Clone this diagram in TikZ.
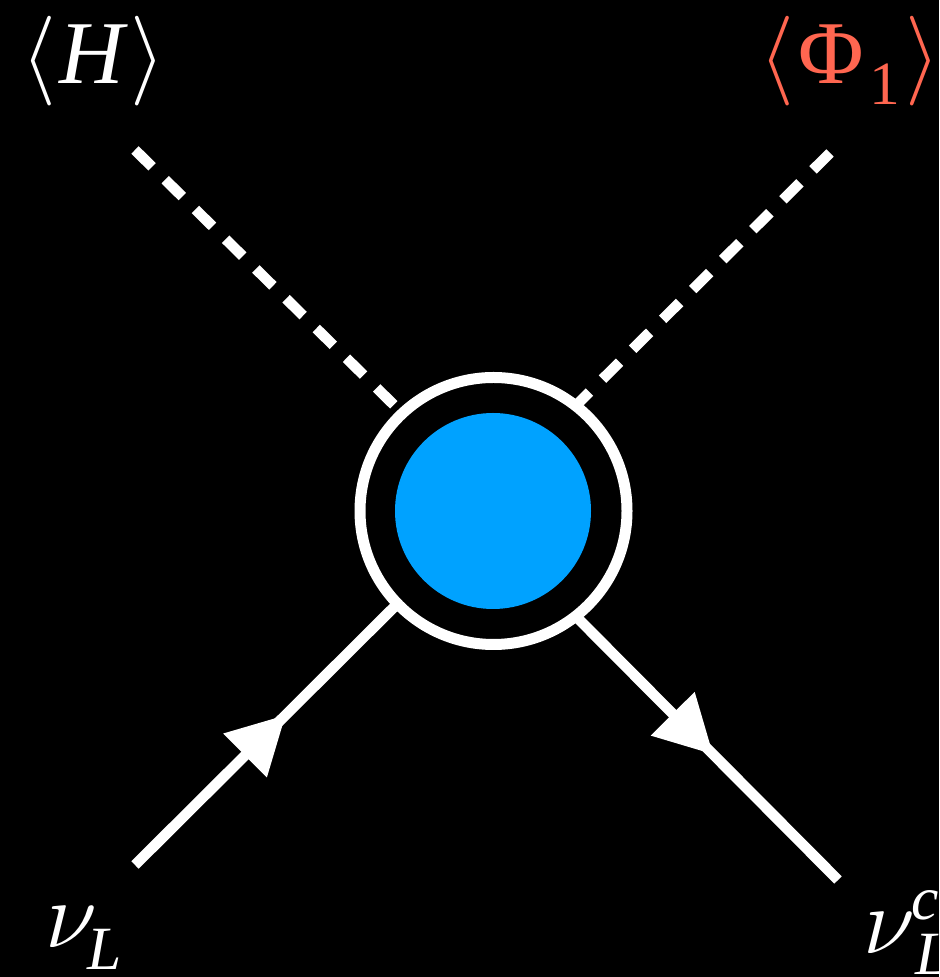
\documentclass[tikz,border=0pt]{standalone}
\usepackage{fix-cm}
\usepackage{fontspec}
\setmainfont{Liberation Serif}
\usepackage{xcolor}
\usetikzlibrary{arrows.meta, decorations.markings}
\definecolor{vevred}{RGB}{255, 102, 80}
\definecolor{blobblue}{RGB}{0, 162, 255}
\newcommand{\nusym}{{\fontsize{54}{58}\selectfont$\nu$}}
\newcommand{\lowsub}[1]{\raisebox{-0.42cm}{\fontsize{35}{38}\selectfont #1}}
\newcommand{\highsup}[1]{\raisebox{0.68cm}{\fontsize{35}{38}\selectfont #1}}

\begin{document}
\begin{tikzpicture}[
	vevline/.style={draw=white, line width=0.21cm, dash pattern=on 0.48cm off 0.368cm},
	fermline/.style={draw=white, line width=0.21cm, postaction={decorate}, decoration={markings, mark=at position #1 with {\arrow[white, line width=0pt]{Triangle[length=1.14cm, width=1.24cm]}}}},
	ringbox/.style={circle, draw=white, line width=0.22cm, minimum size=5.34cm, inner sep=0pt, outer sep=0pt},
	corebox/.style={circle, fill=blobblue, minimum size=3.92cm, inner sep=0pt, outer sep=0pt},
	labelbox/.style={font=\fontsize{51}{54}\selectfont, text=white, inner sep=0pt, anchor=base}
	]
	\fill[black] (0,0) rectangle (18.78,19.54);
	\useasboundingbox (0,0) rectangle (18.78,19.54);

	% Blob in the middle
	\node[ringbox] (ring) at (9.87, 9.32) {};
	\node[corebox] (core) at (9.86, 9.32) {};

	% Outer labels
	\node[labelbox] (lbl_h) at (1.87, 17.86) {$\langle$\kern0.06cm\textit{H}\kern0.06cm$\rangle$};
	\node[labelbox, text=vevred] (lbl_phi) at (17.0, 17.86) {$\langle$\kern0.08cm Φ\kern0.12cm\lowsub{1}\kern0.1cm$\rangle$};
	\node[labelbox, anchor=base west] (lbl_nu) at (0.9, 0.58) {\nusym\kern-0.2cm\lowsub{\textit{L}}};
	\node[labelbox, anchor=base west] (lbl_nuc) at (17.26, 0.46) {\nusym\rlap{\kern-0.08cm\highsup{\textit{c}}}\lowsub{\textit{L}}};

	% Free ends of the legs
	\coordinate (end_h) at (2.70, 16.54);
	\coordinate (end_phi) at (16.60, 16.48);
	\coordinate (end_nu) at (2.70, 2.24);
	\coordinate (end_nuc) at (16.76, 1.94);

	% Legs
	\draw[vevline] (end_h) -- (ring.133);
	\draw[vevline] (end_phi) -- (ring.52);
	\draw[fermline=0.573] (end_nu) -- (ring.224);
	\draw[fermline=0.523] (ring.-52) -- (end_nuc);
\end{tikzpicture}
\end{document}
